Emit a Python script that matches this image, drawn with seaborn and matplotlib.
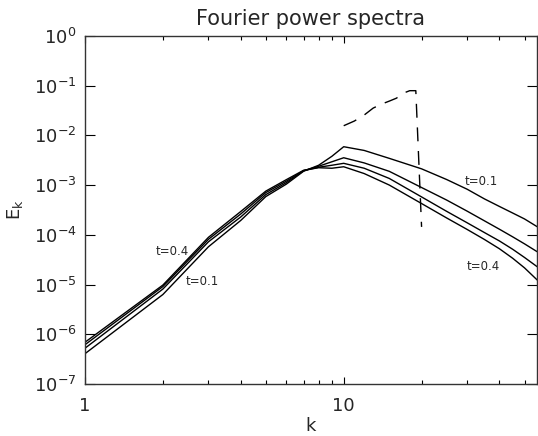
import numpy as np
import pandas as pd
import matplotlib
matplotlib.use("Agg")
import matplotlib.pyplot as plt
import matplotlib.ticker as mticker
import seaborn as sns

# ---- data ----
k_vals = [1, 2, 3, 4, 5, 6, 7, 8, 9, 10, 12, 15, 20, 25, 30, 35, 40, 45, 50, 56]
log10_E_t01 = [-6.39, -5.20, -4.24, -3.71, -3.23, -2.98, -2.72, -2.60, -2.42, -2.227,
               -2.302, -2.461, -2.672, -2.887, -3.082, -3.277, -3.429, -3.561, -3.680, -3.837]
log10_E_t02 = [-6.28, -5.09, -4.14, -3.64, -3.19, -2.95, -2.71, -2.62, -2.53, -2.449,
               -2.553, -2.722, -3.048, -3.300, -3.523, -3.718, -3.887, -4.040, -4.181, -4.340]
log10_E_t03 = [-6.21, -5.04, -4.09, -3.58, -3.15, -2.92, -2.71, -2.64, -2.60, -2.561,
               -2.660, -2.865, -3.237, -3.527, -3.757, -3.954, -4.123, -4.290, -4.455, -4.642]
log10_E_t04 = [-6.16, -5.01, -4.05, -3.53, -3.12, -2.89, -2.70, -2.65, -2.66, -2.630,
               -2.767, -2.998, -3.370, -3.660, -3.891, -4.093, -4.280, -4.471, -4.664, -4.909]
times = ["t=0.1", "t=0.2", "t=0.3", "t=0.4"]

k_init = [10, 11, 12, 13, 14, 15, 16, 17, 18, 19, 20]
log10_E_init = [-1.805, -1.71, -1.59, -1.45, -1.37, -1.31, -1.25, -1.15, -1.10, -1.10, -3.84]

title = "Fourier power spectra"
x_ticklabels = {1: "1", 10: "10"}

# ---- build long-form table ----
rows = []
for t, arr in zip(times, [log10_E_t01, log10_E_t02, log10_E_t03, log10_E_t04]):
    for k, le in zip(k_vals, arr):
        rows.append({"k": k, "E": 10.0 ** le, "t": t})
df = pd.DataFrame(rows)
df_init = pd.DataFrame({"k": k_init, "E": 10.0 ** np.array(log10_E_init)})

sns.set_style("ticks")
plt.rcParams["font.family"] = ["DejaVu Sans"]

fig = plt.figure(figsize=(5.38, 4.36), dpi=100)
ax = fig.add_axes([85 / 538, 1 - 384 / 436, 452 / 538, 348 / 436])

sns.lineplot(data=df, x="k", y="E", hue="t", palette=["black"] * 4,
             linewidth=1.0, legend=False, ax=ax, estimator=None, sort=False)
sns.lineplot(data=df_init, x="k", y="E", color="black", linewidth=1.0,
             ax=ax, estimator=None, sort=False, dashes=False)
ax.lines[-1].set_dashes([10, 7])

ax.set_xscale("log")
ax.set_yscale("log")
ax.set_xlim(1, 10 ** ((537 - 85) / 258.7))
ax.set_ylim(1e-7, 1)

# ticks
ax.xaxis.set_major_locator(mticker.FixedLocator([1, 10]))
ax.xaxis.set_major_formatter(mticker.FuncFormatter(lambda v, p: x_ticklabels.get(int(round(v)), "")))
ax.xaxis.set_minor_locator(mticker.LogLocator(base=10, subs=np.arange(2, 10), numticks=20))
ax.xaxis.set_minor_formatter(mticker.NullFormatter())
ax.yaxis.set_major_locator(mticker.LogLocator(base=10, numticks=20))
ax.yaxis.set_minor_locator(mticker.NullLocator())

ax.tick_params(axis="both", which="both", direction="in", top=True, right=True,
               color="black", width=0.8)
ax.tick_params(axis="x", which="major", length=5, labelsize=13, pad=9)
ax.tick_params(axis="x", which="minor", length=2.6)
ax.tick_params(axis="y", which="major", length=7.2, labelsize=13, pad=6)

for s in ax.spines.values():
    s.set_linewidth(1.0)
    s.set_color("#333333")

ax.set_xlabel("k", fontsize=13, labelpad=2)
ax.set_ylabel(r"E$_\mathregular{k}$", fontsize=13, labelpad=6)
ax.set_title(title, fontsize=15, pad=8)

# annotations
ax.text(2.17, 4.7e-5, "t=0.4", fontsize=8.5, ha="center", va="center")
ax.text(2.85, 1.17e-5, "t=0.1", fontsize=8.5, ha="center", va="center")
ax.text(34.1, 1.17e-3, "t=0.1", fontsize=8.5, ha="center", va="center")
ax.text(34.7, 2.35e-5, "t=0.4", fontsize=8.5, ha="center", va="center")

fig.savefig("out.png", dpi=100)
